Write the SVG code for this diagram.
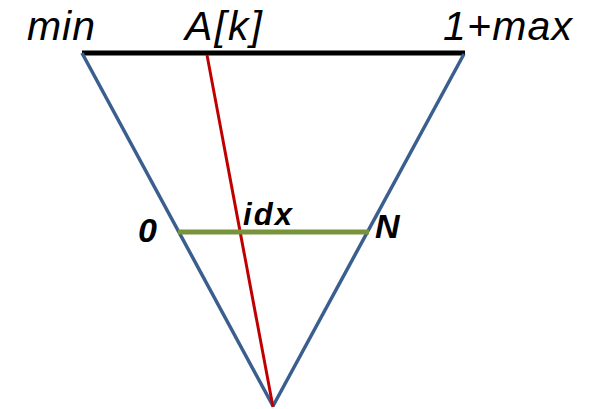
<svg xmlns="http://www.w3.org/2000/svg" width="598" height="409" viewBox="0 0 598 409">
<style>
.lbl{font-family:"Liberation Sans",Arial,sans-serif;font-style:italic;fill:#000}
.big{font-size:41px}
.sm{font-size:31px;font-weight:bold}
.md{font-size:34px;font-weight:bold}
</style>
<rect width="598" height="409" fill="#fff"/>
<g id="connectors" fill="none" stroke-linecap="butt">
<line x1="82" y1="53" x2="465" y2="53" stroke="#000" stroke-width="5"/>
<line x1="82" y1="53" x2="273" y2="406" stroke="#3A5F8F" stroke-width="3.5"/>
<line x1="464" y1="54" x2="273" y2="406" stroke="#3A5F8F" stroke-width="3.5"/>
<line x1="207" y1="55" x2="273" y2="407" stroke="#C00000" stroke-width="3"/>
<line x1="178" y1="232" x2="369" y2="232" stroke="#77933C" stroke-width="5"/>
</g>
<g id="min"><text class="lbl big" x="27" y="40" textLength="68">min</text></g>
<g id="ak"><text class="lbl big" x="185" y="40" textLength="77">A[k]</text></g>
<g id="max"><text class="lbl big" x="443" y="40" textLength="129">1+max</text></g>
<g id="zero"><text class="lbl md" x="138" y="242" textLength="22">0</text></g>
<g id="idx"><text class="lbl sm" x="243" y="225" textLength="49">idx</text></g>
<g id="n"><text class="lbl md" x="375" y="238" textLength="27">N</text></g>
</svg>
